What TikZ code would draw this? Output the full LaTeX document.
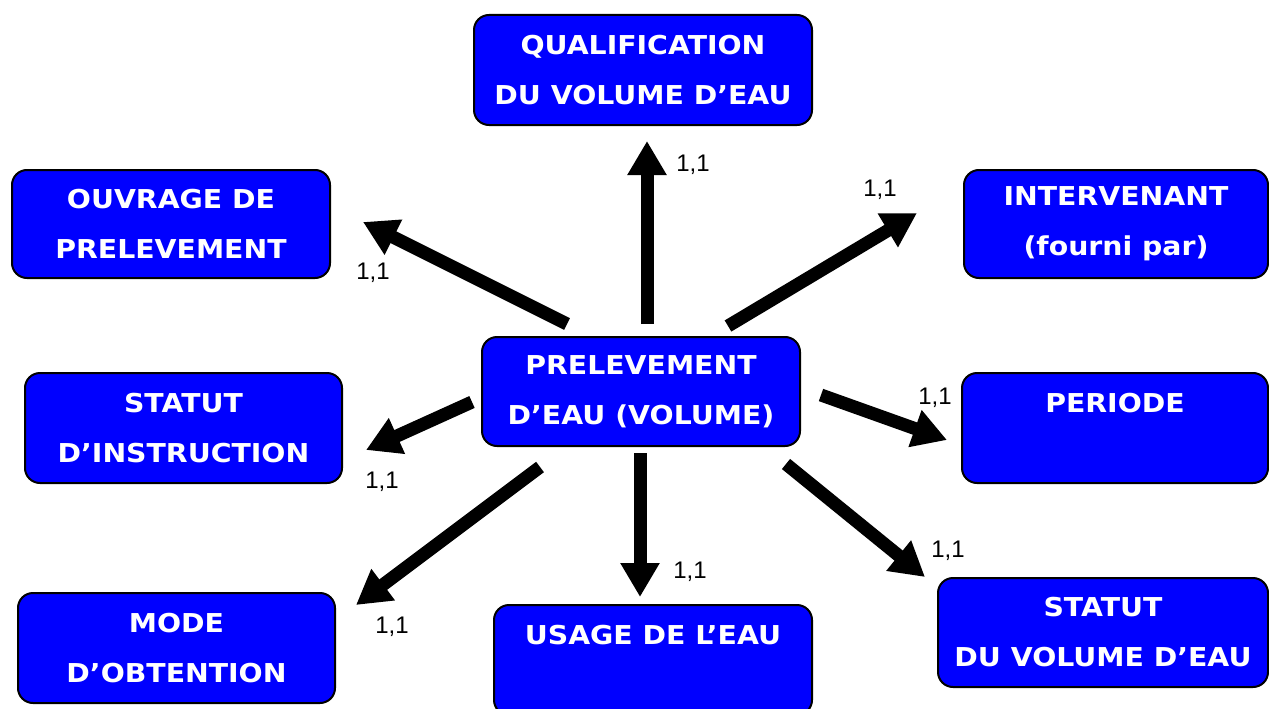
\documentclass[tikz,border=0pt]{standalone}
\usepackage{fontspec}
\setmainfont[BoldFeatures={FakeStretch=1.09}]{DejaVu Sans}
\newfontfamily\cardfont{Liberation Sans}
\usetikzlibrary{calc, arrows.meta}
\def\boxw{318pt}
\def\boxh{109pt}
\def\fillcolor{blue}
\def\entityfont{\fontsize{26}{50}\selectfont\bfseries}
\tikzset{
% Entity
entity/.style={
	draw=black, line width=2pt,
	fill=\fillcolor,
	rounded corners=15pt,
	text=white,
	font=\entityfont,
	align=center,
	minimum width=\boxw,
	minimum height=\boxh,
	inner sep=0pt,
},
% Link
link/.style={
	line width=13pt,
	-{Triangle[width=37pt, length=34pt]},
},
% Cardinality
card/.style={
	font=\cardfont\fontsize{24}{28}\selectfont, inner sep=0pt,
},
}

\begin{document}
\begin{tikzpicture}[x=1pt, y=-1pt]
		\useasboundingbox (0,0) rectangle (1269,709);
		% Components
		\node[entity] (prel) at (641,391.5) {PRELEVEMENT\\D’EAU (VOLUME)};

		\node[entity, minimum width=338pt, minimum height=110pt]
			 (qual) at (643,70) {QUALIFICATION\\DU VOLUME D’EAU};

		\node[entity, minimum height=108pt]
			 (ouv) at (171,224) {OUVRAGE DE\\PRELEVEMENT};

		\node[entity, minimum width=304pt, minimum height=108pt]
			 (inter) at (1116,224) {INTERVENANT\\(fourni par)};

		\node[entity, minimum width=317pt, minimum height=110pt]
			 (statinstr) at (183.5,428) {STATUT\\D’INSTRUCTION};

		\node[entity, minimum width=306pt, minimum height=110pt]
			 (periode) at (1115,428) {PERIODE\\~};

		\node[entity, minimum width=317pt, minimum height=110pt]
			 (mode) at (176.5,648) {MODE\\D’OBTENTION};

		\node[entity, minimum height=110pt]
			 (usage) at (653,660) {USAGE DE L’EAU\\~};

		\node[entity, minimum width=330pt]
			 (statvol) at (1103,632.5) {STATUT\\DU VOLUME D’EAU};

		% Connections
		\draw[link] ($(prel.north)+(6,-12)$) -- ($(qual.south)+(4,15)$);
		\draw[link] ($(prel.north west)+(86,-12)$) -- ($(ouv.east)+(32,-2)$);
		\draw[link] ($(prel.north east)+(-73,-10)$) -- ($(inter.west)+(-46,-11)$);
		\draw[link] ($(prel.west)+(-9,10.5)$) -- ($(statinstr.east)+(23,22)$);
		\draw[link] ($(prel.east)+(20,3.5)$) -- ($(periode.west)+(-14,12)$);
		\draw[link] ($(prel.south west)+(59,20)$) -- ($(mode.east)+(20,-43)$);
		\draw[link] ($(prel.south)+(-1,6)$) -- ($(usage.north)+(-13,-7)$);
		\draw[link] ($(prel.south east)+(-15,17)$) -- ($(statvol.north west)+(-12,0)$);

		% Cardinalities
		\node[card] (c_qual) at (693,165) {1,1};
		\node[card] (c_inter) at (880,190) {1,1};
		\node[card] (c_ouv) at (373,273) {1,1};
		\node[card] (c_per) at (935,398) {1,1};
		\node[card] (c_instr) at (382,482) {1,1};
		\node[card] (c_mode) at (392,627) {1,1};
		\node[card] (c_usage) at (690,572) {1,1};
		\node[card] (c_vol) at (948,551) {1,1};
	\end{tikzpicture}
\end{document}
